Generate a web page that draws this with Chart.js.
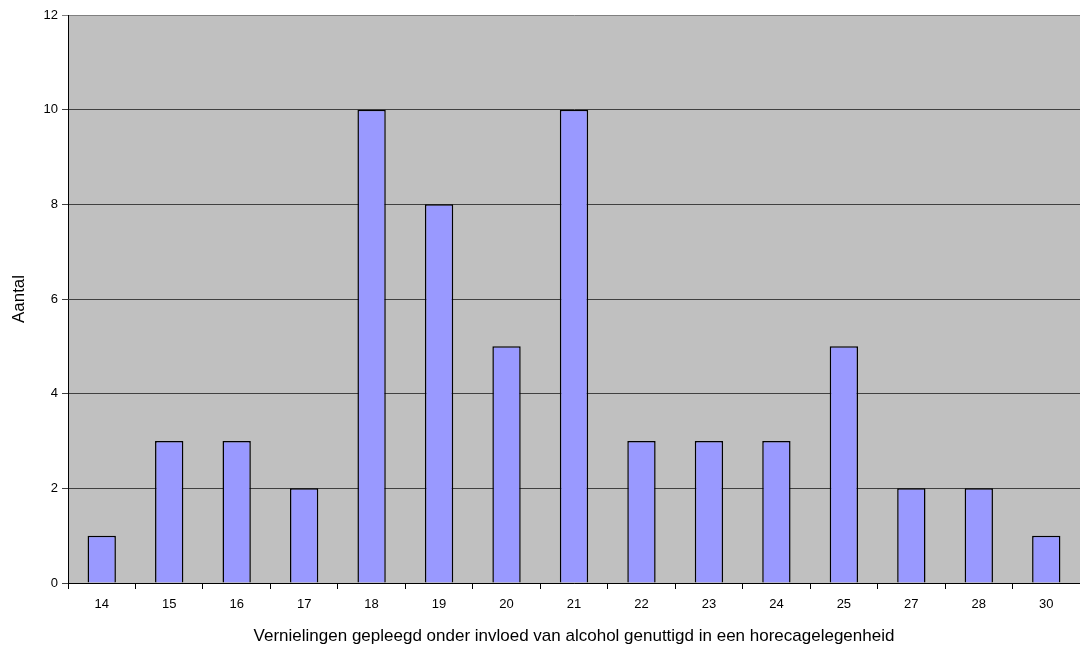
<!DOCTYPE html>
<html>
<head>
<meta charset="utf-8">
<script src="https://cdn.jsdelivr.net/npm/chart.js@4"></script>
<style>
  html, body { margin: 0; padding: 0; background: #fff; }
  #wrap { width: 1080px; height: 653px; }
</style>
</head>
<body>
<div id="wrap"><canvas id="barChart" width="1080" height="653"></canvas></div>
<script>
var leeftijden = ['14', '15', '16', '17', '18', '19', '20', '21', '22', '23', '24', '25', '27', '28', '30'];
var aantallen = [1, 3, 3, 2, 10, 8, 5, 10, 3, 3, 3, 5, 2, 2, 1];
var yTicks = [0, 2, 4, 6, 8, 10, 12];

// gray plot background, like the spreadsheet chart
var plotBackground = {
    id: 'plotBackground',
    beforeDraw: function(chart) {
        var a = chart.chartArea;
        var ctx = chart.ctx;
        ctx.save();
        ctx.fillStyle = '#C0C0C0';
        ctx.fillRect(a.left, a.top, a.right - a.left, a.bottom - a.top);
        ctx.restore();
    }
};

var ctx = document.getElementById('barChart').getContext('2d');
new Chart(ctx, {
    type: 'bar',
    data: {
        labels: leeftijden,
        datasets: [{
            label: 'Aantal',
            data: aantallen,
            backgroundColor: '#9999FF',
            borderColor: '#000000',
            borderWidth: 1.5,
            categoryPercentage: 1,
            barPercentage: 0.42
        }]
    },
    plugins: [plotBackground],
    options: {
        responsive: false,
        animation: false,
        layout: { padding: { top: 15, right: 0, bottom: 0, left: 0 } },
        plugins: {
            legend: { display: false },
            tooltip: { enabled: false }
        },
        scales: {
            x: {
                offset: true,
                afterFit: function(scale) { scale.height = 70; },
                grid: {
                    offset: true,
                    drawOnChartArea: false,
                    drawTicks: true,
                    tickLength: 6,
                    color: '#000000'
                },
                border: { color: '#000000', width: 1 },
                ticks: {
                    color: '#000000',
                    padding: 8,
                    maxRotation: 0,
                    font: { family: 'Liberation Sans', size: 13 }
                },
                title: {
                    display: true,
                    text: 'Vernielingen gepleegd onder invloed van alcohol genuttigd in een horecagelegenheid',
                    color: '#000000',
                    padding: { top: 4, bottom: 6 },
                    font: { family: 'Liberation Sans', size: 17 }
                }
            },
            y: {
                min: 0,
                max: 12,
                afterFit: function(scale) { scale.width = 68; },
                afterBuildTicks: function(scale) {
                    scale.ticks = yTicks.map(function(v) { return { value: v }; });
                },
                grid: {
                    color: function(c) { return c.tick && c.tick.value === 12 ? '#808080' : '#404040'; },
                    lineWidth: 1,
                    tickLength: 6
                },
                border: { color: '#000000', width: 1 },
                ticks: {
                    color: '#000000',
                    padding: 4,
                    font: { family: 'Liberation Sans', size: 13 }
                },
                title: {
                    display: true,
                    text: 'Aantal',
                    color: '#000000',
                    padding: { top: 9, bottom: 4 },
                    font: { family: 'Liberation Sans', size: 17 }
                }
            }
        }
    }
});
</script>
</body>
</html>
